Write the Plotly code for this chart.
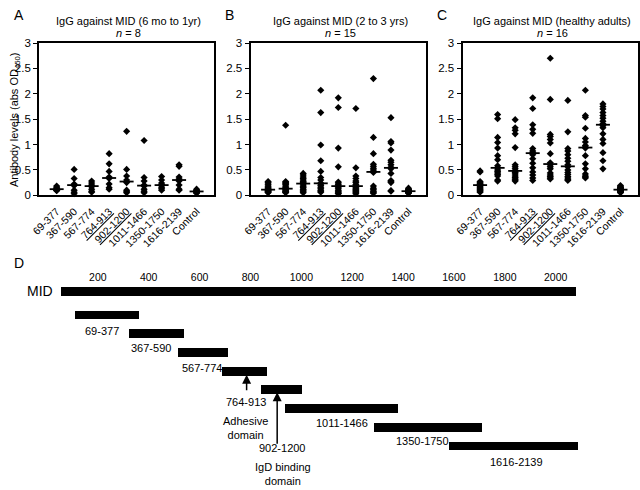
import plotly.graph_objects as go

W, H = 640, 490


def X(px):
    return px / W


def Y(py):
    return 1 - py / H


FONT = "Liberation Sans, Arial, Helvetica, sans-serif"

# ---------------- data ----------------
categories = ["69-377", "367-590", "567-774", "764-913", "902-1200",
              "1011-1466", "1350-1750", "1616-2139", "Control"]
category_ticktext = ["69-377", "367-590", "567-774", "<u>764-913</u>", "<u>902-1200</u>",
                     "1011-1466", "1350-1750", "1616-2139", "Control"]

# Panel A: 6 mo to 1 yr (n = 8)
a_values = [
    [0.18, 0.16, 0.14, 0.12, 0.12, 0.10, 0.10, 0.09],
    [0.51, 0.33, 0.22, 0.20, 0.19, 0.10, 0.06, 0.03],
    [0.28, 0.24, 0.20, 0.18, 0.17, 0.12, 0.08, 0.06],
    [0.82, 0.62, 0.47, 0.36, 0.33, 0.22, 0.15, 0.12],
    [1.26, 0.51, 0.38, 0.30, 0.25, 0.10, 0.07, 0.05],
    [1.08, 0.35, 0.28, 0.20, 0.18, 0.12, 0.08, 0.05],
    [0.37, 0.30, 0.24, 0.21, 0.19, 0.16, 0.13, 0.10],
    [0.60, 0.57, 0.36, 0.32, 0.28, 0.20, 0.12, 0.10],
    [0.12, 0.10, 0.09, 0.08, 0.07, 0.06, 0.05, 0.04],
]
a_medians = [0.12, 0.20, 0.18, 0.34, 0.27, 0.19, 0.20, 0.30, 0.075]

# Panel B: 2 to 3 yrs (n = 15)
b_values = [
    [0.27, 0.25, 0.22, 0.20, 0.17, 0.15, 0.13, 0.12, 0.11, 0.10, 0.09, 0.08, 0.07, 0.06, 0.05],
    [1.38, 0.27, 0.25, 0.23, 0.21, 0.18, 0.16, 0.14, 0.13, 0.11, 0.10, 0.08, 0.07, 0.06, 0.05],
    [0.43, 0.40, 0.36, 0.33, 0.30, 0.27, 0.25, 0.23, 0.20, 0.17, 0.15, 0.12, 0.10, 0.07, 0.05],
    [2.07, 1.63, 0.99, 0.68, 0.47, 0.35, 0.30, 0.24, 0.22, 0.19, 0.16, 0.13, 0.10, 0.08, 0.06],
    [1.92, 1.73, 0.93, 0.56, 0.26, 0.24, 0.21, 0.18, 0.16, 0.13, 0.10, 0.08, 0.06, 0.04, 0.03],
    [1.71, 0.54, 0.38, 0.33, 0.28, 0.25, 0.21, 0.18, 0.16, 0.13, 0.11, 0.09, 0.07, 0.05, 0.03],
    [2.30, 1.14, 0.82, 0.61, 0.57, 0.53, 0.50, 0.47, 0.45, 0.18, 0.14, 0.11, 0.08, 0.06, 0.04],
    [1.53, 1.06, 1.03, 0.89, 0.69, 0.65, 0.60, 0.55, 0.52, 0.43, 0.29, 0.27, 0.25, 0.09, 0.08],
    [0.14, 0.12, 0.11, 0.10, 0.09, 0.09, 0.08, 0.08, 0.07, 0.07, 0.06, 0.06, 0.05, 0.05, 0.04],
]
b_medians = [0.11, 0.13, 0.23, 0.235, 0.18, 0.18, 0.46, 0.54, 0.08]

# Panel C: healthy adults (n = 16)
c_values = [
    [0.48, 0.46, 0.27, 0.25, 0.23, 0.21, 0.20, 0.20, 0.19, 0.17, 0.15, 0.13, 0.11, 0.10, 0.08, 0.06],
    [1.59, 1.51, 1.14, 1.04, 0.93, 0.78, 0.70, 0.58, 0.54, 0.50, 0.47, 0.44, 0.41, 0.38, 0.30, 0.28],
    [1.49, 1.33, 1.28, 1.21, 0.94, 0.60, 0.56, 0.52, 0.48, 0.45, 0.42, 0.38, 0.35, 0.32, 0.30, 0.28],
    [1.92, 1.71, 1.39, 1.30, 1.22, 0.92, 0.87, 0.84, 0.80, 0.72, 0.63, 0.54, 0.46, 0.40, 0.34, 0.29],
    [2.70, 1.89, 1.20, 1.16, 1.10, 1.03, 0.82, 0.64, 0.60, 0.56, 0.52, 0.44, 0.40, 0.37, 0.34, 0.32],
    [1.87, 1.25, 0.92, 0.87, 0.80, 0.73, 0.67, 0.60, 0.56, 0.50, 0.45, 0.41, 0.37, 0.34, 0.31, 0.29],
    [2.07, 1.57, 1.54, 1.32, 1.12, 1.05, 0.98, 0.95, 0.93, 0.78, 0.62, 0.52, 0.42, 0.38, 0.36, 0.34],
    [1.80, 1.75, 1.70, 1.63, 1.57, 1.52, 1.46, 1.41, 1.37, 1.33, 1.21, 1.10, 1.02, 0.84, 0.68, 0.52],
    [0.19, 0.17, 0.16, 0.15, 0.14, 0.13, 0.12, 0.11, 0.11, 0.10, 0.09, 0.09, 0.08, 0.07, 0.06, 0.05],
]
c_medians = [0.20, 0.54, 0.48, 0.83, 0.615, 0.57, 0.94, 1.39, 0.11]

panel_titles = ["IgG against MID (6 mo to 1yr)", "IgG against MID (2 to 3 yrs)",
                "IgG against MID (healthy adults)"]
panel_n = [8, 15, 16]

# Panel D: MID map (positions as drawn on the residue scale of the figure)
mid_span = [56, 2079]
fragment_names = categories[:8]
fragment_start = [109, 322, 516, 690, 842, 935, 1284, 1579]
fragment_end = [361, 538, 712, 865, 1002, 1381, 1711, 2087]
residue_ticks = [200, 400, 600, 800, 1000, 1200, 1400, 1600, 1800, 2000]

# ---------------- figure ----------------
fig = go.Figure()

boxes = [(30.6, 208.0), (245.0, 423.0), (460.0, 638.0)]
box_top, box_bottom = 38.0, 194.0
panels = [(a_values, a_medians), (b_values, b_medians), (c_values, c_medians)]

layout_axes = {}
for i, ((vals, meds), (x0, x1)) in enumerate(zip(panels, boxes)):
    idx = "" if i == 0 else str(i + 1)
    xs, ys = [], []
    for cat, v in zip(categories, vals):
        xs += [cat] * len(v)
        ys += v
    fig.add_trace(go.Scatter(
        x=xs, y=ys, mode="markers", xaxis="x" + idx, yaxis="y" + idx,
        marker=dict(symbol="diamond", size=5.5, color="black"),
        cliponaxis=False, showlegend=False, hoverinfo="skip"))
    fig.add_trace(go.Scatter(
        x=categories, y=meds, mode="markers", xaxis="x" + idx, yaxis="y" + idx,
        marker=dict(symbol="line-ew", size=10, line=dict(width=1.8, color="black")),
        cliponaxis=False, showlegend=False, hoverinfo="skip"))
    layout_axes["xaxis" + idx] = dict(
        domain=[X(x0), X(x1)], anchor="y" + idx, type="category",
        categoryorder="array", categoryarray=categories,
        range=[-1, 9], tickvals=categories, ticktext=category_ticktext,
        tickangle=-45, ticks="", ticklabelstandoff=4, showgrid=False, zeroline=False,
        showline=True, linecolor="black", linewidth=2, mirror=True,
        tickfont=dict(family=FONT, size=10.5, color="black"))
    layout_axes["yaxis" + idx] = dict(
        domain=[Y(box_bottom), Y(box_top)], anchor="x" + idx,
        range=[0, 3], tick0=0, dtick=0.5, ticks="outside", ticklen=4,
        tickcolor="black", showgrid=False, zeroline=False,
        showline=True, linecolor="black", linewidth=2, mirror=True,
        tickfont=dict(family=FONT, size=11.5, color="black"))

# Panel D bars
rows = list(range(1, len(fragment_names) + 1))
fig.add_trace(go.Bar(
    y=[-0.25], x=[mid_span[1] - mid_span[0]], base=[mid_span[0]], orientation="h",
    width=0.47, marker=dict(color="black", line=dict(width=0)),
    xaxis="x4", yaxis="y4", showlegend=False, hoverinfo="skip"))
fig.add_trace(go.Bar(
    y=rows, x=[e - s for s, e in zip(fragment_start, fragment_end)], base=fragment_start,
    orientation="h", width=0.47, marker=dict(color="black", line=dict(width=0)),
    xaxis="x4", yaxis="y4", showlegend=False, hoverinfo="skip"))

d_top = 285.0
layout_axes["xaxis4"] = dict(
    domain=[0, 1], anchor="y4", side="top",
    range=[(0 - 38.5) / 0.258, (640 - 38.5) / 0.258],
    tickvals=residue_ticks, ticks="", showgrid=False, zeroline=False, showline=False,
    tickfont=dict(family=FONT, size=10.5, color="black"))
layout_axes["yaxis4"] = dict(
    domain=[0, Y(d_top)], anchor="x4",
    range=[(490 - 297.5) / 19.2, (d_top - 297.5) / 19.2],
    visible=False)

annotations = []


def txt(text, px, py, size=11, xanchor="center", yanchor="middle", **kw):
    annotations.append(dict(text=text, x=X(px), y=Y(py), xref="paper", yref="paper",
                            xanchor=xanchor, yanchor=yanchor, showarrow=False,
                            font=dict(family=FONT, size=size, color="black"), **kw))


# panel letters, titles
for letter, (x0, x1), title, n in zip("ABC", boxes, panel_titles, panel_n):
    txt(letter, x0 - 27.6, 9, size=14, xanchor="left")
    cx = (x0 + x1) / 2 + 2
    txt(title, cx, 15, size=11)
    txt("<i>n</i> = %d" % n, cx, 28, size=11)
txt("D", 3, 263, size=14, xanchor="left")

# y-axis title
txt("Antibody levels (abs OD<sub>450</sub>)", 6, 116, size=11, textangle=-90)

# panel D labels
txt("MID", 31, 292, size=14)
label_pos = [(94, 333), (144.5, 351), (195.5, 371), (240, 406),
             (277.5, 453), (338, 427), (419, 446), (514.5, 467)]
for name, (px, py) in zip(fragment_names, label_pos):
    txt(name, px, py, size=11)
txt("Adhesive<br>domain", 240, 433, size=11)
txt("IgD binding<br>domain", 277.5, 480, size=11)

# arrows
for hx, hy, tail in [(241, 378, 17), (272, 396, 53)]:
    annotations.append(dict(text="", x=X(hx), y=Y(hy), xref="paper", yref="paper",
                            ax=0, ay=tail, showarrow=True, arrowhead=2, arrowsize=1.2,
                            arrowwidth=1.5, arrowcolor="black"))

fig.update_layout(
    width=W, height=H, margin=dict(l=0, r=0, t=0, b=0),
    paper_bgcolor="white", plot_bgcolor="white",
    showlegend=False, barmode="overlay", bargap=0,
    annotations=annotations, **layout_axes)

fig.write_html("out.html", config={"displayModeBar": False},
               post_script="document.body.style.margin='0px';document.body.style.padding='0px';")
